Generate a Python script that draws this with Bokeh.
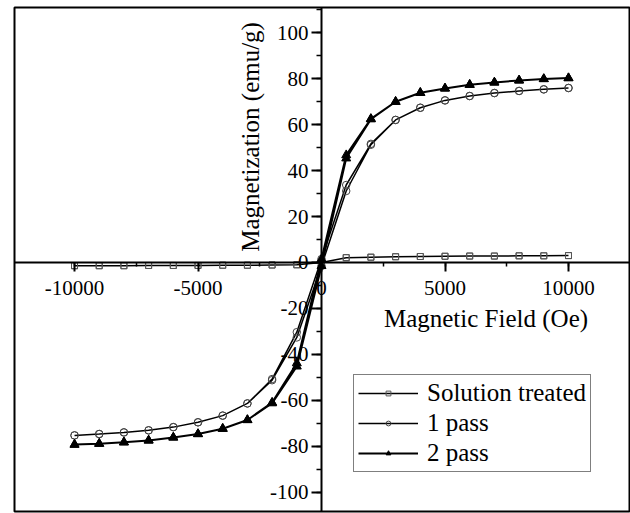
import math
from bokeh.plotting import figure
from bokeh.models import (LinearAxis, SingleIntervalTicker, Label, Legend,
                          LegendItem, Range1d, PrintfTickFormatter)
from bokeh.embed import file_html
from bokeh.resources import INLINE

# ---------------- data ----------------
field = [-10000, -9000, -8000, -7000, -6000, -5000, -4000, -3000, -2000, -1000, 0,
         1000, 2000, 3000, 4000, 5000, 6000, 7000, 8000, 9000, 10000]

# Solution treated (descending / ascending branches, same order as field)
st_desc = [-1.4, -1.4, -1.4, -1.3, -1.3, -1.3, -1.2, -1.2, -1.1, -1.0, 0.0,
           2.1, 2.3, 2.5, 2.6, 2.7, 2.8, 2.8, 2.9, 2.9, 3.0]
st_asc = [-1.4, -1.4, -1.4, -1.3, -1.3, -1.3, -1.2, -1.2, -1.1, -1.0, 0.0,
          2.1, 2.3, 2.5, 2.6, 2.7, 2.8, 2.8, 2.9, 2.9, 3.0]

# 1 pass
p1_desc = [-75.2, -74.6, -73.9, -73.0, -71.6, -69.5, -66.6, -61.3, -50.7, -30.3, 1.5,
           33.7, 51.6, 62.0, 67.3, 70.5, 72.4, 73.7, 74.6, 75.3, 75.9]
p1_asc = [-75.2, -74.6, -73.9, -73.0, -71.6, -69.5, -66.6, -61.3, -51.2, -32.6, -1.5,
          31.1, 51.2, 62.0, 67.3, 70.5, 72.4, 73.7, 74.6, 75.3, 75.9]

# 2 pass
p2_desc = [-79.2, -78.8, -78.2, -77.4, -76.1, -74.6, -72.3, -68.5, -60.9, -43.8, 1.5,
           46.7, 62.5, 69.9, 73.8, 75.7, 77.3, 78.3, 79.2, 79.8, 80.2]
p2_asc = [-79.2, -78.8, -78.2, -77.4, -76.1, -74.6, -72.3, -68.5, -61.2, -45.2, -1.5,
          45.3, 62.3, 69.9, 73.8, 75.7, 77.3, 78.3, 79.2, 79.8, 80.2]

series_names = ["Solution treated", "1 pass", "2 pass"]

x_ticks_interval = 5000
y_ticks_interval = 20

FONT = "Liberation Serif"

# ---------------- figure ----------------
p = figure(width=630, height=513,
           x_range=Range1d(-12430, 12470), y_range=Range1d(-108.3, 110.9),
           output_backend="svg", toolbar_location=None,
           x_axis_type=None, y_axis_type=None,
           min_border_left=14, min_border_right=1,
           min_border_top=7, min_border_bottom=2)
p.background_fill_color = "white"
p.border_fill_color = "white"
p.outline_line_color = "black"
p.outline_line_width = 2

# axes crossing at the origin
xaxis = LinearAxis(fixed_location=0,
                   ticker=SingleIntervalTicker(interval=x_ticks_interval, num_minor_ticks=2),
                   formatter=PrintfTickFormatter(format="%d"))
yaxis = LinearAxis(fixed_location=0,
                   ticker=SingleIntervalTicker(interval=y_ticks_interval, num_minor_ticks=2),
                   formatter=PrintfTickFormatter(format="%d"))
for ax in (xaxis, yaxis):
    ax.axis_line_color = "black"
    ax.axis_line_width = 2
    ax.major_tick_line_color = "black"
    ax.major_tick_line_width = 2
    ax.minor_tick_line_color = "black"
    ax.minor_tick_line_width = 1.5
    ax.major_tick_in = 0
    ax.minor_tick_in = 0
    ax.major_label_text_font = FONT
    ax.major_label_text_font_size = "21px"
    ax.major_label_text_color = "black"
xaxis.major_tick_out = 9
xaxis.minor_tick_out = 4
xaxis.major_label_standoff = 10
yaxis.major_tick_out = 10
yaxis.minor_tick_out = 5
yaxis.major_label_standoff = 3
p.add_layout(xaxis, "below")
p.add_layout(yaxis, "left")


def loop(desc, asc):
    xs = field[::-1] + field
    ys = desc[::-1] + asc
    return xs, ys


xs, ys = loop(st_desc, st_asc)
l_st = p.line(xs, ys, line_color="black", line_width=1.5)
m_st = p.scatter(xs, ys, marker="square", size=6, fill_color=None,
                 line_color="#555555", line_width=1)

xs, ys = loop(p1_desc, p1_asc)
l_p1 = p.line(xs, ys, line_color="black", line_width=1.5)
m_p1 = p.scatter(xs, ys, marker="circle", size=7.5, fill_color=None,
                 line_color="#444444", line_width=1)

xs, ys = loop(p2_desc, p2_asc)
l_p2 = p.line(xs, ys, line_color="black", line_width=2)
m_p2 = p.scatter(xs, ys, marker="triangle", size=9, fill_color="black",
                 line_color="black", line_width=1)

# axis titles
p.add_layout(Label(x=6660, y=-24.3, text="Magnetic Field (Oe)",
                   text_font=FONT, text_font_size="25px", text_color="black",
                   text_align="center", text_baseline="middle"))
p.add_layout(Label(x=-2870, y=54.6, text="Magnetization (emu/g)", angle=math.pi / 2,
                   text_font=FONT, text_font_size="25px", text_color="black",
                   text_align="center", text_baseline="middle"))

legend = Legend(items=[
    LegendItem(label=series_names[0], renderers=[l_st, m_st]),
    LegendItem(label=series_names[1], renderers=[l_p1, m_p1]),
    LegendItem(label=series_names[2], renderers=[l_p2, m_p2]),
], location=(339, 39))
legend.label_text_font = FONT
legend.label_text_font_size = "25px"
legend.label_text_color = "black"
legend.border_line_color = "black"
legend.border_line_width = 1
legend.background_fill_color = "white"
legend.background_fill_alpha = 1
legend.padding = 4
legend.spacing = 2
legend.glyph_width = 60
legend.glyph_height = 12
legend.label_height = 28
legend.label_standoff = 9
legend.margin = 0
p.add_layout(legend)

open("out.html", "w").write(file_html(p, INLINE))
